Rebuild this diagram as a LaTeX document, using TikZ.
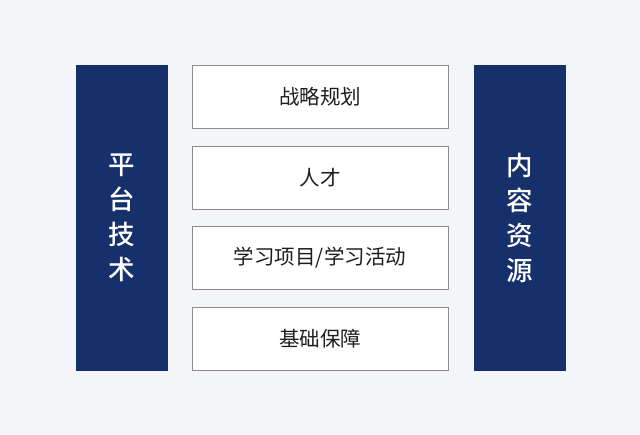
\documentclass[tikz,border=0pt]{standalone}
\usepackage{fontspec}
\newfontfamily\cjk{Noto Sans CJK SC}
\newfontfamily\cjkmed{Noto Sans CJK SC Medium}
\usepackage{tikz}
\usetikzlibrary{backgrounds}
\definecolor{pagebg}{HTML}{F4F5F9}
\definecolor{barblue}{HTML}{15306B}
\definecolor{boxline}{HTML}{8C8C8C}
\definecolor{boxtext}{HTML}{1E1E1E}

\begin{document}
\begin{tikzpicture}[x=1pt,y=-1pt,
  sidebar/.style={fill=barblue,minimum width=92pt,minimum height=306pt,inner sep=0pt,
    text=white,align=center,font=\cjkmed\fontsize{26.5}{35}\selectfont},
  layer/.style={fill=white,draw=boxline,line width=0.8pt,minimum width=256pt,
    minimum height=63pt,inner sep=0pt,text=boxtext,font=\cjk\fontsize{20.5}{22}\selectfont}]
\fill[pagebg] (0,0) rectangle (640,435);
\useasboundingbox (0,0) rectangle (640,435);
\node[sidebar] (platform) at (122,218) {平\\台\\技\\术};
\node[sidebar] (content) at (519.5,218) {内\\容\\资\\源};
\node[layer] (strategy) at (320,97) {战略规划};
\node[layer] (talent) at (320,177.5) {人才};
\node[layer] (learning) at (320,258) {学习项目/学习活动};
\node[layer] (basis) at (320,339) {基础保障};
\end{tikzpicture}
\end{document}
